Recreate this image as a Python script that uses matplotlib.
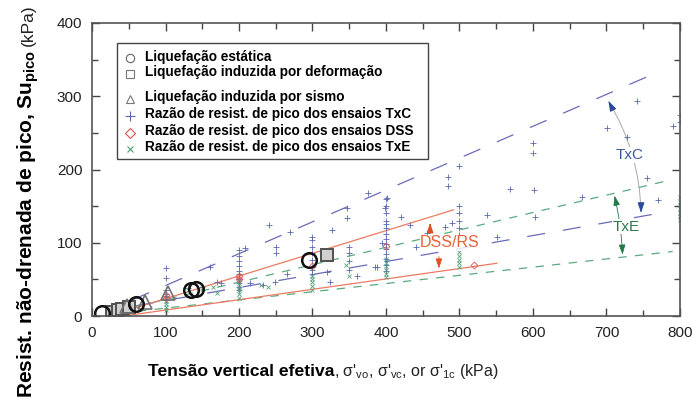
import numpy as np
import matplotlib.pyplot as plt
from matplotlib.patches import Rectangle, FancyArrowPatch

plt.rcParams['font.family'] = ['Liberation Sans', 'DejaVu Sans']
plt.rcParams['mathtext.fontset'] = 'custom'
plt.rcParams['mathtext.rm'] = 'Liberation Sans'
plt.rcParams['mathtext.it'] = 'Liberation Sans:italic'
plt.rcParams['mathtext.bf'] = 'Liberation Sans:bold'
plt.rcParams['lines.scale_dashes'] = False

# --- data (kPa) ---
txc_sigma = [100, 100, 100, 100, 100, 100, 160, 170, 150, 130, 175,
             200, 200, 200, 200, 200, 200, 200, 200, 200, 200, 208, 215,
             241, 250, 250, 265, 249, 233, 269,
             300, 300, 300, 300, 300, 300, 300, 300,
             326, 347, 347, 376, 401, 398, 350, 350, 350, 350, 324, 388, 320, 360, 385,
             400, 400, 400, 400, 400, 400, 400, 400, 400, 400, 400, 400, 400, 400, 395,
             420, 433, 441, 456, 490, 480,
             500, 485, 485, 500, 500, 500, 500, 500,
             569, 537, 551, 600, 600, 601, 603, 667, 701, 728, 741, 755, 770, 790, 800, 800]
txc_su = [65, 52, 35, 30, 27, 22, 67, 47, 40, 38, 45,
          90, 82, 75, 68, 62, 57, 50, 45, 40, 35, 93, 45,
          124, 94, 86, 58, 47, 42, 115,
          108, 104, 94, 86, 76, 67, 63, 58,
          117, 134, 147, 168, 161, 147, 94, 86, 75, 63, 47, 67, 60, 55, 67,
          160, 150, 140, 130, 125, 120, 112, 105, 98, 92, 85, 78, 70, 62, 100,
          135, 124, 94, 113, 127, 122,
          205, 190, 177, 150, 140, 130, 120, 111,
          173, 138, 108, 236, 222, 172, 135, 162, 256, 244, 293, 188, 158, 259, 265, 275]

txe_sigma = [100, 100, 100, 100, 100, 130, 150, 170, 165,
             200, 200, 200, 200, 200, 200, 230, 240,
             300, 300, 300, 300, 300, 350, 345,
             400, 400, 400, 400, 400, 400,
             500, 500, 500, 500, 500,
             800, 800, 800, 800, 800, 800, 800]
txe_su = [8, 12, 16, 20, 24, 35, 38, 32, 40,
          25, 30, 35, 40, 45, 50, 42, 40,
          36, 41, 46, 50, 54, 55, 70,
          53, 58, 63, 68, 73, 78,
          67, 72, 77, 82, 87,
          131, 136, 141, 146, 151, 156, 163]

dss_sigma = [100, 100, 200, 200, 300, 400, 520]
dss_su = [25, 29, 50, 55, 68, 95, 70]

static_sigma = [13, 60, 135, 142, 295]
static_su = [4, 17, 35, 37, 77]
deform_sigma = [27, 35, 41, 50, 320]
deform_su = [5, 8, 10, 12, 83]
seismic_sigma = [48, 72, 103]
seismic_su = [13, 19, 31]

# trend lines: start/end points
txc_lines = [((55, 770), (22, 333)), ((60, 770), (14, 140))]
txe_lines = [((60, 780), (13, 184)), ((40, 790), (4, 88))]
dss_lines = [((30, 492), (2, 145)), ((50, 551), (1, 72))]

xticks = [0, 100, 200, 300, 400, 500, 600, 700, 800]
yticks = [0, 100, 200, 300, 400]

c_txc = '#5a68b0'
c_txe = '#4fa276'
c_dss = '#e8603a'

dpi = 100
fig = plt.figure(figsize=(6.97, 4.0), dpi=dpi)
ax = fig.add_axes([0.132, 0.21, 0.8436, 0.7325])

for xs, ys in txc_lines:
    ax.plot(xs, ys, color='#6a6ab8', lw=0.9, dashes=(13, 13))
for xs, ys in txe_lines:
    ax.plot(xs, ys, color='#5aaa80', lw=0.9, dashes=(6, 6))
for xs, ys in dss_lines:
    ax.plot(xs, ys, color='#ec7a62', lw=0.9)

ax.plot(txc_sigma, txc_su, ls='none', marker='+', ms=5, mew=0.6, color=c_txc)
ax.plot(txe_sigma, txe_su, ls='none', marker='x', ms=3.5, mew=0.6, color=c_txe)
ax.plot(dss_sigma, dss_su, ls='none', marker='D', ms=3.5, mew=0.6, mfc='none', color='#e05050')
ax.plot(deform_sigma, deform_su, ls='none', marker='s', ms=9, mew=1.4, mfc='#d0d0d0', mec='#505050')
ax.plot(seismic_sigma, seismic_su, ls='none', marker='^', ms=10, mew=1.2, mfc='none', mec='#707070')
ax.plot(static_sigma, static_su, ls='none', marker='o', ms=10.5, mew=1.8, mfc='none', mec='#111111')

# TxC annotation
arc = FancyArrowPatch((701, 296), (747, 138), connectionstyle='arc3,rad=-0.14',
                      arrowstyle='-', color='#a8a8a8', lw=0.7)
ax.add_patch(arc)
for tip, tail in [((701, 297), (707, 285)), ((747, 137), (747, 150))]:
    ax.annotate('', xy=tip, xytext=tail,
                arrowprops=dict(arrowstyle='-|>,head_length=0.6,head_width=0.2',
                                color='#2a4a9a', lw=0.8))
ax.text(732, 220, 'TxC', color='#3a58a0', fontsize=11, ha='center', va='center',
        bbox=dict(facecolor='white', edgecolor='none', pad=0.5))

# TxE annotation
ax.annotate('', xy=(710, 168), xytext=(722, 80),
            arrowprops=dict(arrowstyle='<|-|>,head_length=0.6,head_width=0.2',
                            color='#1f7a48', lw=0.6, connectionstyle='arc3,rad=0.05'))
ax.text(727, 122, 'TxE', color='#2a7a4a', fontsize=11, ha='center', va='center',
        bbox=dict(facecolor='white', edgecolor='none', pad=0.5))

# DSS/RS annotation
ax.annotate('', xy=(460, 131), xytext=(460, 119),
            arrowprops=dict(arrowstyle='-|>,head_length=0.6,head_width=0.2',
                            color='#e05020', lw=0.8))
ax.annotate('', xy=(472, 61), xytext=(472, 85),
            arrowprops=dict(arrowstyle='-|>,head_length=0.6,head_width=0.2',
                            color='#e05020', lw=0.6))
ax.text(487, 100, 'DSS/RS', color=c_dss, fontsize=11.5, ha='center', va='center',
        bbox=dict(facecolor='white', edgecolor='none', pad=0.3, alpha=0.8))

# legend drawn by hand
ax.add_patch(Rectangle((0.0425, 0.536), 0.5285, 0.396, transform=ax.transAxes,
                       facecolor='white', edgecolor='#444444', lw=1, zorder=5))
leg_items = [
    ('o', dict(mfc='none', mec='#666666', ms=6, mew=0.8), 'Liquefação estática', 0.885),
    ('s', dict(mfc='none', mec='#777777', ms=6, mew=0.8), 'Liquefação induzida por deformação', 0.833),
    ('^', dict(mfc='none', mec='#777777', ms=6, mew=0.8), 'Liquefação induzida por sismo', 0.747),
    ('+', dict(color=c_txc, ms=7, mew=0.8), 'Razão de resist. de pico dos ensaios TxC', 0.689),
    ('D', dict(mfc='none', mec='#e05050', ms=5, mew=0.8), 'Razão de resist. de pico dos ensaios DSS', 0.632),
    ('x', dict(color=c_txe, ms=5, mew=0.8), 'Razão de resist. de pico dos ensaios TxE', 0.577),
]
for mk, kw, lab, yy in leg_items:
    ax.plot([0.065], [yy - 0.006], marker=mk, ls='none', transform=ax.transAxes,
            zorder=6, clip_on=False, **kw)
    ax.text(0.09, yy, lab, transform=ax.transAxes, fontsize=9.8, fontweight='bold',
            ha='left', va='center', zorder=6)

ax.set_xlim(0, 800)
ax.set_ylim(0, 400)
ax.set_xticks(xticks)
ax.set_yticks(yticks)
ax.set_xticks(np.arange(50, 800, 100), minor=True)
ax.set_yticks(np.arange(50, 400, 100), minor=True)
ax.tick_params(which='both', direction='in', top=True, right=True, color='#444444', width=1)
ax.tick_params(which='major', length=6, labelsize=11, pad=7, labelcolor='#222222')
ax.tick_params(which='minor', length=4.5)
for s in ax.spines.values():
    s.set_color('#555555')
    s.set_linewidth(1.2)

# axis labels with mixed weights
fig.canvas.draw()
r = fig.canvas.get_renderer()
t1 = fig.text(0.212, 0.06, 'Tensão vertical efetiva', fontsize=12.6, fontweight='bold',
              ha='left', va='baseline')
w = t1.get_window_extent(r).width / fig.bbox.width
fig.text(0.212 + w, 0.06,
         r", σ'$_{\mathrm{vo}}$, σ'$_{\mathrm{vc}}$, or σ'$_{\mathrm{1c}}$ (kPa)",
         fontsize=11.5, ha='left', va='baseline', color='#222222')

t3 = fig.text(0.047, 0.005, r'Resist. não-drenada de pico, Su$_{\mathbf{pico}}$', rotation=90,
              rotation_mode='anchor', ha='left', va='baseline', fontsize=15, fontweight='bold')
h = t3.get_window_extent(r).height / fig.bbox.height
fig.text(0.047, 0.005 + h + 0.008, '(kPa)', rotation=90, rotation_mode='anchor',
         ha='left', va='baseline', fontsize=12.5, color='#222222')

fig.savefig('out.png', dpi=dpi)
